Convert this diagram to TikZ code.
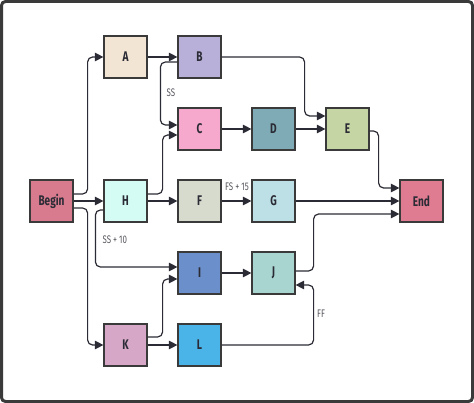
\documentclass[tikz,border=0pt]{standalone}
\usepackage{fontspec}
\setmainfont{Fira Sans}[FakeStretch=0.72]
\usetikzlibrary{arrows.meta}
\definecolor{frame}{HTML}{3A3A3A}
\definecolor{ink}{HTML}{2B2B35}
\definecolor{cA}{HTML}{F3E5D3}
\definecolor{cB}{HTML}{B8B0D8}
\definecolor{cC}{HTML}{F7A9CD}
\definecolor{cD}{HTML}{7EABB5}
\definecolor{cE}{HTML}{C6D5A4}
\definecolor{cBegin}{HTML}{D97B8F}
\definecolor{cH}{HTML}{D5FBF5}
\definecolor{cF}{HTML}{D6DBCD}
\definecolor{cG}{HTML}{BDE0E6}
\definecolor{cEnd}{HTML}{E07C92}
\definecolor{cI}{HTML}{6A8FCA}
\definecolor{cJ}{HTML}{A8D5CF}
\definecolor{cK}{HTML}{D6A7C7}
\definecolor{cL}{HTML}{4AB3E8}
\begin{document}
\begin{tikzpicture}
        [x=1pt,y=-1pt,
        task/.style={draw=frame,line width=1.2pt,minimum width=43pt,minimum height=42pt,
            inner sep=0pt,font=\fontsize{14}{14}\selectfont\bfseries,text=ink},
        link/.style={line width=1.2pt,draw=ink,rounded corners=5pt,-{Triangle[length=8.5pt,width=8.5pt]}},
        note/.style={font=\fontsize{11}{11}\selectfont,text=ink!80}]
    \useasboundingbox (0,0) rectangle (474,403);
    \draw[frame,line width=3pt,rounded corners=4pt] (1.5,1.5) rectangle (472.5,401.5);
    \node[task,fill=cA] (A) at (125.5,57) {A};
    \node[task,fill=cB] (B) at (199.5,57) {B};
    \node[task,fill=cC] (C) at (199.5,129) {C};
    \node[task,fill=cD] (D) at (273.5,129) {D};
    \node[task,fill=cE] (E) at (347.5,129) {E};
    \node[task,fill=cBegin] (Begin) at (51.5,201) {Begin};
    \node[task,fill=cH] (H) at (125.5,201) {H};
    \node[task,fill=cF] (F) at (199.5,201) {F};
    \node[task,fill=cG] (G) at (273.5,201) {G};
    \node[task,fill=cEnd] (End) at (421.5,201) {End};
    \node[task,fill=cI] (I) at (199.5,273) {I};
    \node[task,fill=cJ] (J) at (273.5,273) {J};
    \node[task,fill=cK] (K) at (125.5,345) {K};
    \node[task,fill=cL] (L) at (199.5,345) {L};
    % straight links
    \draw[link] (Begin) -- (H);
    \draw[link] (A) -- (B);
    \draw[link] (C) -- (D);
    \draw[link] (D) -- (E);
    \draw[link] (H) -- (F);
    \draw[link] (F) -- (G);
    \draw[link] (G) -- (End);
    \draw[link] (I) -- (J);
    \draw[link] (K) -- (L);
    % bent links
    \draw[link] ([yshift=7pt]Begin.east) -- ++(14,0) |- (A.west);
    \draw[link] ([yshift=-7pt]Begin.east) -- ++(14,0) |- (K.west);
    \draw[link] (B.east) -- ++(83,0) |- ([yshift=13pt]E.west);
    \draw[link] ([yshift=-5pt]B.west) -- ++(-17,0) |- ([yshift=4pt]C.west);
    \draw[link] ([yshift=7pt]H.east) -- ++(15,0) |- ([yshift=-6pt]C.west);
    \draw[link] ([yshift=-2pt]E.east) -- ++(9,0) |- ([yshift=13pt]End.west);
    \draw[link] ([yshift=2pt]J.east) -- ++(18,0) |- ([yshift=-13pt]End.west);
    \draw[link] ([yshift=-9pt]H.west) -- ++(-8,0) |- ([yshift=6pt]I.west);
    \draw[link] ([yshift=8pt]K.east) -- ++(15,0) |- ([yshift=-6pt]I.west);
    \draw[link] (L.east) -- ++(92,0) |- ([yshift=-12pt]J.east);
    % lag labels
    \node[note] (ss) at (171,93) {SS};
    \node[note] (fs15) at (237,187) {FS + 15};
    \node[note,anchor=west] (ss10) at (99,240) {SS + 10};
    \node[note] (ff) at (321,314) {FF};
\end{tikzpicture}
\end{document}
